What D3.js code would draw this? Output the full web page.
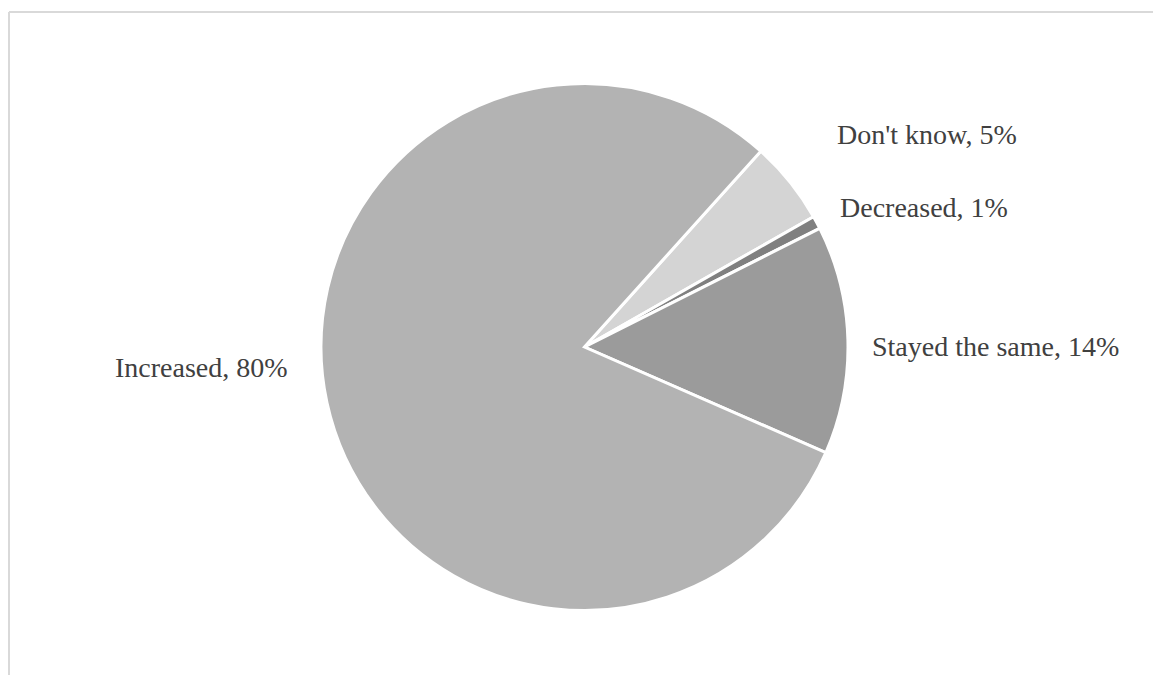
<!DOCTYPE html>
<html>
<head>
<meta charset="utf-8">
<script src="https://cdn.jsdelivr.net/npm/d3@7"></script>
<style>
  html, body { margin: 0; padding: 0; background: #fff; }
  svg { display: block; }
</style>
</head>
<body>
<svg id="chart" width="1153" height="675"></svg>
<script>
// Data (clockwise order starting from the first slice angle)
const categories = ["Don't know", "Decreased", "Stayed the same", "Increased"];
const values = [5.1, 0.8, 14.0, 80.1];
const colors = ["#d4d4d4", "#808080", "#9b9b9b", "#b3b3b3"];

const W = 1153, H = 675;
const cx = 584.5, cy = 347, R = 263.5;
const startDeg = 42;

const svg = d3.select("#chart");

// chart area border (top and left visible)
svg.append("line").attr("x1", 9).attr("y1", 12).attr("x2", W).attr("y2", 12)
  .attr("stroke", "#d9d9d9").attr("stroke-width", 2);
svg.append("line").attr("x1", 9).attr("y1", 12).attr("x2", 9).attr("y2", H)
  .attr("stroke", "#d9d9d9").attr("stroke-width", 2);

const data = categories.map((c, i) => ({ cat: c, value: values[i], color: colors[i] }));
const pie = d3.pie().value(d => d.value).sort(null)
  .startAngle(startDeg * Math.PI / 180)
  .endAngle((startDeg + 360) * Math.PI / 180);
const arc = d3.arc().innerRadius(0).outerRadius(R);

const g = svg.append("g").attr("transform", `translate(${cx},${cy})`);
g.selectAll("path").data(pie(data)).join("path")
  .attr("d", arc)
  .attr("fill", d => d.data.color)
  .attr("stroke", "#ffffff")
  .attr("stroke-width", 3)
  .attr("stroke-linejoin", "miter");

// label anchor positions (layout)
const labelPos = {
  "Don't know": [837, 144],
  "Decreased": [840, 217],
  "Stayed the same": [872, 356],
  "Increased": [115, 377]
};
svg.append("g").selectAll("text").data(data).join("text")
  .attr("x", d => labelPos[d.cat][0])
  .attr("y", d => labelPos[d.cat][1])
  .attr("font-family", "'Liberation Serif', 'Times New Roman', serif")
  .attr("font-size", 28)
  .attr("fill", "#404040")
  .text(d => `${d.cat}, ${Math.round(d.value)}%`);
</script>
</body>
</html>
